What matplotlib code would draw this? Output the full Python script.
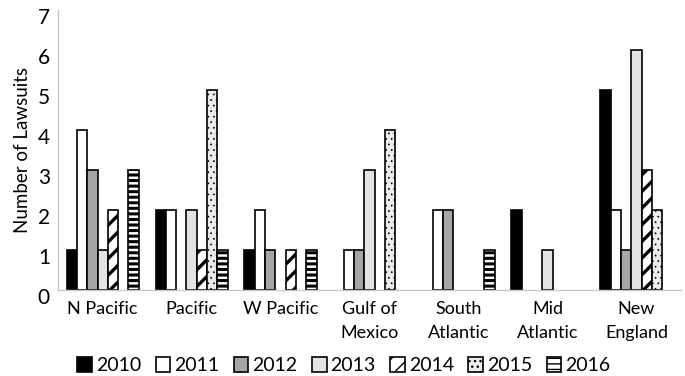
import numpy as np
import matplotlib
matplotlib.use("Agg")
import matplotlib.pyplot as plt
import matplotlib.transforms as mtransforms

plt.rcParams['font.family'] = ['Lato', 'DejaVu Sans']

regions = ["N Pacific", "Pacific", "W Pacific", "Gulf of\nMexico",
           "South\nAtlantic", "Mid\nAtlantic", "New\nEngland"]
years = ["2010", "2011", "2012", "2013", "2014", "2015", "2016"]

y2010 = [1, 2, 1, 0, 0, 2, 5]
y2011 = [4, 2, 2, 1, 2, 0, 2]
y2012 = [3, 0, 1, 1, 2, 0, 1]
y2013 = [1, 2, 0, 3, 0, 1, 6]
y2014 = [2, 1, 1, 0, 0, 0, 3]
y2015 = [0, 5, 0, 4, 0, 0, 2]
y2016 = [3, 1, 1, 0, 1, 0, 0]
series = [y2010, y2011, y2012, y2013, y2014, y2015, y2016]

# fill, hatch, hatch linewidth for each year
styles = [
    ("black", None, 1.0),
    ("white", None, 1.0),
    ("#a6a6a6", None, 1.0),
    ("#e3e3e3", None, 1.0),
    ("white", "//", 2.4),
    ("#ececec", "...", 0.5),
    ("white", "---", 2.2),
]

fig = plt.figure(figsize=(6.85, 3.76), dpi=100)
ax = fig.add_axes([0.085, 0.229, 0.909, 0.745])

x = np.arange(len(regions))
w = 0.116
for i, (vals, (fc, hatch, hlw)) in enumerate(zip(series, styles)):
    # zero counts are not drawn at all in the original
    h = np.where(np.array(vals) > 0, vals, np.nan)
    with plt.rc_context({'hatch.linewidth': hlw}):
        ax.bar(x + (i - 3) * w, h, width=w, color=fc, edgecolor="black",
               linewidth=1.2, hatch=hatch, label=years[i])

ax.set_xlim(-0.5, len(regions) - 0.5)
ax.set_ylim(0, 7)
ax.set_yticks(range(8))
ax.set_xticks(x)
ax.set_xticklabels(regions, fontsize=13, linespacing=1.6)
ax.tick_params(axis='y', labelsize=15, length=0, pad=6)
ax.tick_params(axis='x', length=0, pad=8)
ax.set_ylabel("Number of Lawsuits", fontsize=13.5, labelpad=5)

# y labels sit a little below their ticks in the original
shift = mtransforms.ScaledTranslation(0, -6 / 100, fig.dpi_scale_trans)
for lab in ax.get_yticklabels():
    lab.set_transform(lab.get_transform() + shift)

for s in ["top", "right"]:
    ax.spines[s].set_visible(False)
for s in ["left", "bottom"]:
    ax.spines[s].set_color("#c8c8c8")
    ax.spines[s].set_linewidth(1.0)

fig.legend(loc="center", bbox_to_anchor=(0.502, 0.027), ncol=7, frameon=False,
           fontsize=14, handlelength=0.75, handleheight=0.75,
           handletextpad=0.2, columnspacing=0.75)

fig.savefig("out.png", dpi=100)
